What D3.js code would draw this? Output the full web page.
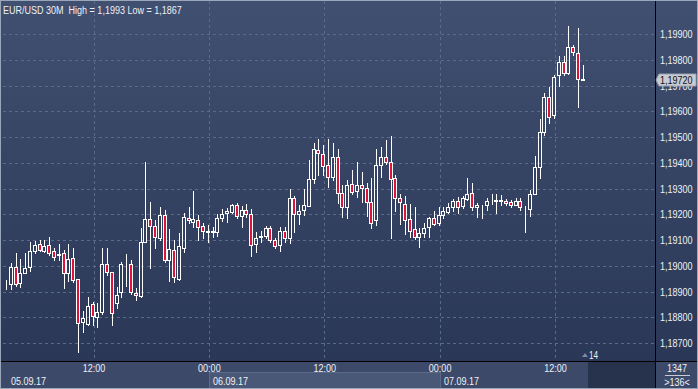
<!DOCTYPE html>
<html>
<head>
<meta charset="utf-8">
<title>EUR/USD 30M</title>
<script src="https://d3js.org/d3.v7.min.js"></script>
<style>
  body { margin: 0; background: #2f3c5c; }
  svg text { font-family: "Liberation Sans", Arial, sans-serif; font-size: 11px; fill: #eef1f6; }
</style>
</head>
<body>
<svg width="698" height="389"></svg>
<script>
// first candle 05.09.17 02:30, one candle every 30 minutes
const startTime = new Date(2017, 8, 5, 2, 30);

const openVals = [1.18955,1.18928,1.18928,1.18996,1.18934,1.18973,1.18994,1.19058,1.19083,1.19059,
  1.19081,1.19057,1.19040,1.19048,1.18971,1.19032,1.18947,1.18783,1.18773,1.18850,
  1.18800,1.18819,1.19007,1.18975,1.18854,1.18898,1.19005,1.19007,1.18895,1.18884,
  1.19091,1.19180,1.19154,1.19107,1.19197,1.19021,1.19060,1.18947,1.19070,1.19184,
  1.19169,1.19177,1.19154,1.19133,1.19134,1.19133,1.19184,1.19203,1.19210,1.19235,
  1.19195,1.19216,1.19200,1.19083,1.19112,1.19117,1.19145,1.19100,1.19079,1.19135,
  1.19107,1.19262,1.19200,1.19215,1.19233,1.19336,1.19448,1.19433,1.19390,1.19346,
  1.19421,1.19281,1.19227,1.19316,1.19291,1.19312,1.19301,1.19249,1.19176,1.19390,
  1.19421,1.19402,1.19340,1.19262,1.19239,1.19181,1.19142,1.19113,1.19128,1.19149,
  1.19185,1.19165,1.19196,1.19210,1.19229,1.19250,1.19232,1.19260,1.19281,1.19229,
  1.19235,1.19235,1.19253,1.19253,1.19250,1.19253,1.19248,1.19237,1.19250,1.19228,
  1.19219,1.19279,1.19382,1.19521,1.19657,1.19587,1.19741,1.19792,1.19750,1.19848,
  1.19825,1.19724];
const highVals = [1.18971,1.18945,1.19012,1.19048,1.19025,1.19048,1.19093,1.19096,1.19100,1.19100,
  1.19110,1.19068,1.19084,1.19061,1.19083,1.19068,1.18950,1.18824,1.18880,1.18858,
  1.18854,1.19068,1.19068,1.18975,1.18919,1.19015,1.19046,1.19022,1.18914,1.19145,
  1.19403,1.19249,1.19178,1.19229,1.19217,1.19143,1.19100,1.19128,1.19206,1.19229,
  1.19291,1.19199,1.19166,1.19160,1.19149,1.19201,1.19219,1.19225,1.19241,1.19242,
  1.19231,1.19238,1.19220,1.19132,1.19135,1.19156,1.19156,1.19109,1.19152,1.19152,
  1.19297,1.19272,1.19236,1.19300,1.19411,1.19477,1.19491,1.19467,1.19491,1.19476,
  1.19452,1.19314,1.19333,1.19372,1.19403,1.19364,1.19320,1.19341,1.19452,1.19461,
  1.19488,1.19504,1.19352,1.19279,1.19271,1.19238,1.19228,1.19145,1.19165,1.19191,
  1.19213,1.19229,1.19229,1.19243,1.19258,1.19268,1.19271,1.19340,1.19320,1.19243,
  1.19237,1.19262,1.19279,1.19279,1.19275,1.19259,1.19255,1.19264,1.19262,1.19232,
  1.19294,1.19426,1.19569,1.19670,1.19693,1.19741,1.19815,1.19815,1.19931,1.19857,
  1.19922,1.19780];
const lowVals = [1.18917,1.18911,1.18911,1.18921,1.18919,1.18971,1.18980,1.19048,1.19057,1.19053,
  1.19042,1.19021,1.19022,1.18912,1.18941,1.18937,1.18666,1.18742,1.18770,1.18770,
  1.18763,1.18813,1.18964,1.18771,1.18835,1.18879,1.18923,1.18890,1.18867,1.18877,
  1.19091,1.18990,1.19068,1.19100,1.19015,1.18941,1.18938,1.18945,1.19055,1.19165,
  1.19152,1.19100,1.19107,1.19092,1.19110,1.19116,1.19172,1.19168,1.19204,1.19184,
  1.19149,1.19191,1.19038,1.19055,1.19093,1.19107,1.19091,1.19068,1.19058,1.19093,
  1.19090,1.19130,1.19161,1.19197,1.19232,1.19323,1.19352,1.19352,1.19305,1.19334,
  1.19244,1.19189,1.19184,1.19279,1.19268,1.19249,1.19193,1.19145,1.19158,1.19346,
  1.19395,1.19107,1.19214,1.19162,1.19123,1.19110,1.19102,1.19074,1.19113,1.19110,
  1.19158,1.19158,1.19184,1.19205,1.19214,1.19206,1.19224,1.19255,1.19217,1.19190,
  1.19184,1.19217,1.19240,1.19204,1.19236,1.19236,1.19229,1.19235,1.19217,1.19132,
  1.19193,1.19279,1.19340,1.19508,1.19556,1.19574,1.19698,1.19741,1.19745,1.19818,
  1.19615,1.19722];
const closeVals = [1.18924,1.18929,1.18996,1.18928,1.18971,1.18990,1.19057,1.19081,1.19060,1.19075,
  1.19048,1.19033,1.19047,1.18971,1.19025,1.18945,1.18777,1.18798,1.18844,1.18806,
  1.18819,1.19006,1.18975,1.18818,1.18885,1.19007,1.19007,1.18899,1.18886,1.19091,
  1.19182,1.19154,1.19110,1.19197,1.19021,1.19064,1.18955,1.19077,1.19191,1.19178,
  1.19180,1.19149,1.19134,1.19134,1.19133,1.19184,1.19200,1.19211,1.19236,1.19192,
  1.19216,1.19200,1.19081,1.19107,1.19114,1.19145,1.19100,1.19076,1.19135,1.19108,
  1.19262,1.19200,1.19213,1.19236,1.19336,1.19453,1.19437,1.19386,1.19346,1.19421,
  1.19281,1.19229,1.19312,1.19285,1.19312,1.19301,1.19249,1.19167,1.19390,1.19423,
  1.19402,1.19336,1.19262,1.19246,1.19179,1.19134,1.19113,1.19126,1.19145,1.19185,
  1.19163,1.19196,1.19213,1.19229,1.19250,1.19229,1.19262,1.19279,1.19229,1.19235,
  1.19235,1.19253,1.19253,1.19254,1.19255,1.19245,1.19235,1.19253,1.19228,1.19230,
  1.19279,1.19385,1.19521,1.19654,1.19577,1.19732,1.19792,1.19750,1.19851,1.19830,
  1.19724,1.19720];

const yTicks = [1.187,1.188,1.189,1.190,1.191,1.192,1.193,1.194,1.195,1.196,1.197,1.198,1.199];
const dayStarts = [new Date(2017,8,5), new Date(2017,8,6), new Date(2017,8,7)];
const dayLabels = ["05.09.17", "06.09.17", "07.09.17"];
const title = "EUR/USD 30M  High = 1,1993 Low = 1,1867";
const lastPrice = 1.19720;
const barCount = 1347, visibleCount = 136, aheadCount = 14;

const candles = openVals.map((o, i) => ({
  time: d3.timeMinute.offset(startTime, 30 * i),
  open: o, high: highVals[i], low: lowVals[i], close: closeVals[i]
}));

const svg = d3.select("svg"),
      W = +svg.attr("width"), H = +svg.attr("height"),
      plot = {left: 3, right: 655, top: 1, bottom: 361};

// scales: 12:00 on 05.09 and 07.09 sit on the first and last 12:00 grid line
const x = d3.scaleTime()
  .domain([new Date(2017,8,5,12), new Date(2017,8,7,12)])
  .range([93.5, 555]);
const y = d3.scaleLinear().domain([1.187, 1.199]).range([343, 34]);
const fmt = v => d3.format(".5f")(v).replace(".", ",");

const defs = svg.append("defs");
const grad = defs.append("linearGradient").attr("id", "bg")
  .attr("gradientUnits", "userSpaceOnUse")
  .attr("x1", 0).attr("y1", 0).attr("x2", 0).attr("y2", plot.bottom);
grad.append("stop").attr("offset", "0%").attr("stop-color", "#414f70");
grad.append("stop").attr("offset", "100%").attr("stop-color", "#2a3757");
defs.append("clipPath").attr("id", "clip").append("rect")
  .attr("x", plot.left).attr("y", plot.top)
  .attr("width", plot.right - plot.left).attr("height", plot.bottom - plot.top);

svg.append("rect").attr("width", W).attr("height", plot.bottom).attr("fill", "url(#bg)");

// bottom time panel
svg.append("rect").attr("y", plot.bottom).attr("width", W).attr("height", H - plot.bottom)
  .attr("fill", "#3c4969");
const xDay = d => Math.round(x(d));
svg.append("rect")
  .attr("x", xDay(dayStarts[1]) + 0.5).attr("y", 372.5)
  .attr("width", xDay(dayStarts[2]) - xDay(dayStarts[1])).attr("height", 20)
  .attr("fill", "#4a5878").attr("stroke", "#5c6b8a");
const lastX = Math.round(x(candles[candles.length - 1].time));
svg.append("rect")
  .attr("x", lastX + 4).attr("y", plot.bottom + 1)
  .attr("width", plot.right - lastX - 4).attr("height", H - plot.bottom - 2)
  .attr("fill", "#27324d");

// grid
const grid = svg.append("g").attr("stroke", "#5a6a8b").attr("stroke-dasharray", "3,3")
  .attr("shape-rendering", "crispEdges");
grid.selectAll(".h").data(yTicks).enter().append("line")
  .attr("x1", plot.left).attr("x2", plot.right)
  .attr("y1", d => Math.round(y(d)) + 0.5).attr("y2", d => Math.round(y(d)) + 0.5);
const xTicks = x.ticks(d3.timeHour.every(12));
grid.selectAll(".v").data(xTicks).enter().append("line")
  .attr("x1", d => Math.round(x(d)) + 0.5).attr("x2", d => Math.round(x(d)) + 0.5)
  .attr("y1", plot.top).attr("y2", plot.bottom);

// candles
const g = svg.append("g").attr("clip-path", "url(#clip)").attr("shape-rendering", "crispEdges");
const c = g.selectAll(".candle").data(candles).enter().append("g").attr("class", "candle");
const cx = d => Math.round(x(d.time));
const bTop = d => Math.round(y(Math.max(d.open, d.close)));
const bBot = d => Math.round(y(Math.min(d.open, d.close)));
c.append("line")
  .attr("x1", d => cx(d) - 0.5).attr("x2", d => cx(d) - 0.5)
  .attr("y1", d => Math.round(y(d.high))).attr("y2", d => bTop(d))
  .attr("stroke", "#fff");
c.append("line")
  .attr("x1", d => cx(d) - 0.5).attr("x2", d => cx(d) - 0.5)
  .attr("y1", d => bBot(d)).attr("y2", d => Math.round(y(d.low)) + 1)
  .attr("stroke", "#fff");
c.append("rect")
  .attr("x", d => cx(d) - 2.5).attr("width", 3)
  .attr("y", d => bTop(d) + 0.5).attr("height", d => Math.max(0, bBot(d) - bTop(d)))
  .attr("fill", d => d.close < d.open ? "#dc143c" : "none")
  .attr("stroke", "#fff");

// right price axis
svg.append("line").attr("x1", plot.right + 0.5).attr("x2", plot.right + 0.5)
  .attr("y1", 0).attr("y2", H).attr("stroke", "#000");
const yAxis = svg.append("g").attr("transform", `translate(${plot.right},0)`)
  .call(d3.axisRight(y).tickValues(yTicks).tickSize(0).tickPadding(5).tickFormat(fmt));
yAxis.select(".domain").remove();
yAxis.selectAll("text").style("font-size", "11px").attr("fill", "#eef1f6");

// current price tag
const ty = Math.round(y(lastPrice));
svg.append("path")
  .attr("d", `M${plot.right + 1},${ty} L${plot.right + 4},${ty - 6} H${W - 2} V${ty + 6} H${plot.right + 4} Z`)
  .attr("fill", "#c8ccd4").attr("stroke", "#9aa0ab");
svg.append("text").attr("x", plot.right + 5).attr("y", ty + 4)
  .style("fill", "#111").text(fmt(lastPrice));

// time axis
svg.append("line").attr("x1", 0).attr("x2", W)
  .attr("y1", plot.bottom + 0.5).attr("y2", plot.bottom + 0.5).attr("stroke", "#000");
const xAxis = svg.append("g").attr("transform", `translate(0,${plot.bottom})`)
  .call(d3.axisBottom(x).tickValues(xTicks).tickSize(0).tickPadding(3)
    .tickFormat(d3.timeFormat("%H:%M")));
xAxis.select(".domain").remove();
xAxis.selectAll("text").style("font-size", "11px");

svg.selectAll(".day").data(dayLabels).enter().append("text").attr("class", "day")
  .attr("x", (d, i) => Math.max(plot.left + 8, xDay(dayStarts[i]) + 4))
  .attr("y", 385).text(d => d);

// bar counters
svg.append("text").attr("x", 677).attr("y", 372).attr("text-anchor", "middle").text(barCount);
svg.append("line").attr("x1", 665).attr("x2", 690).attr("y1", 375.5).attr("y2", 375.5)
  .attr("stroke", "#c8ccd6");
svg.append("text").attr("x", 677).attr("y", 386).attr("text-anchor", "middle")
  .text(">" + visibleCount + "<");
svg.append("path").attr("d", `M${lastX - 2},357 l3,-4 l3,4 Z`).attr("fill", "#7d8aa3");
svg.append("text").attr("x", lastX + 5).attr("y", 359).style("font-size", "10px").text(aheadCount);

// title
svg.append("text").attr("x", 3).attr("y", 14).text(title).style("white-space", "pre");

// the chart font is a narrow one: squeeze every label horizontally round its anchor
svg.selectAll("text").each(function () {
  const b = this.getBBox();
  const anchor = getComputedStyle(this).textAnchor;
  const ax = anchor === "middle" ? b.x + b.width / 2 : anchor === "end" ? b.x + b.width : b.x;
  d3.select(this).attr("transform", `translate(${ax},0) scale(0.82,1) translate(${-ax},0)`);
});

// frame
svg.append("rect").attr("x", 0.5).attr("y", 0.5).attr("width", W - 1).attr("height", H - 1)
  .attr("fill", "none").attr("stroke", "#9aa6ba");
</script>
</body>
</html>
